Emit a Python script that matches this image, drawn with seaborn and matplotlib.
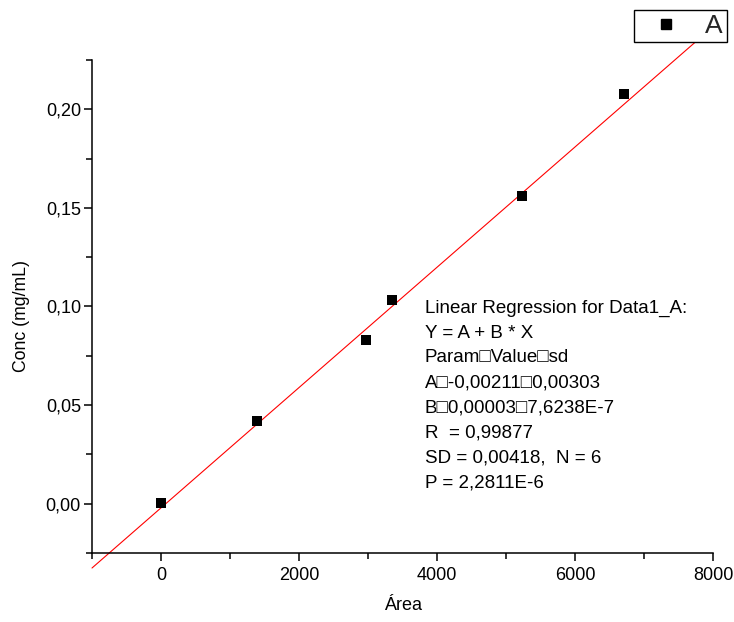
import numpy as np
import pandas as pd
import matplotlib
matplotlib.use("Agg")
import matplotlib.pyplot as plt
import seaborn as sns
from matplotlib.ticker import MultipleLocator, FuncFormatter
from matplotlib.lines import Line2D

# ---- data ----
area = [0, 1390, 2970, 3345, 5230, 6710]
conc = [0.0005, 0.042, 0.083, 0.1035, 0.156, 0.208]
fit_intercept = -0.00211
fit_slope = 3.05e-5
fit_x = [-1000, 8000]
annot_lines = [
    "Linear Regression for Data1_A:",
    "Y = A + B * X",
    "Param\u25a1Value\u25a1sd",
    "A\u25a1-0,00211\u25a10,00303",
    "B\u25a10,00003\u25a17,6238E-7",
    "R  = 0,99877",
    "SD = 0,00418,  N = 6",
    "P = 2,2811E-6",
]
legend_label = "A"

sns.set_theme(style="white")
plt.rcParams['font.family'] = ['Liberation Sans', 'DejaVu Sans']

W, H = 734, 622
fig = plt.figure(figsize=(W / 100, H / 100), dpi=100)
L, R, T, B = 92, 713, 60, 553
ax = fig.add_axes([L / W, 1 - B / H, (R - L) / W, (B - T) / H])

df = pd.DataFrame({"x": area, "y": conc})

# regression line (extends beyond axes, as in reference)
fx = np.array(fit_x, dtype=float)
fy = fit_intercept + fit_slope * fx
ax.plot(fx, fy, color="#ff0000", lw=0.8, clip_on=False, zorder=2)

sns.scatterplot(data=df, x="x", y="y", marker="s", s=55, color="black",
                edgecolor="black", linewidth=0, ax=ax, zorder=3, clip_on=False)

ax.set_xlim(-1000, 8000)
ax.set_ylim(-0.025, 0.225)

ax.xaxis.set_major_locator(MultipleLocator(2000))
ax.xaxis.set_minor_locator(MultipleLocator(1000))
ax.yaxis.set_major_locator(MultipleLocator(0.05))
ax.yaxis.set_minor_locator(MultipleLocator(0.025))
ax.xaxis.set_major_formatter(FuncFormatter(lambda v, p: f"{v:.0f}"))
ax.yaxis.set_major_formatter(FuncFormatter(lambda v, p: f"{v:.2f}".replace(".", ",")))

for s in ["top", "right"]:
    ax.spines[s].set_visible(False)
for s in ["left", "bottom"]:
    ax.spines[s].set_color("black")
    ax.spines[s].set_linewidth(1.1)

ax.tick_params(which="major", direction="out", length=6, width=1.1, color="black",
               labelsize=13, labelcolor="black", bottom=True, left=True)
ax.tick_params(which="minor", direction="out", length=4, width=1.1, color="black",
               bottom=True, left=True)
ax.tick_params(axis="y", which="major", pad=2)
ax.tick_params(axis="x", which="major", pad=4)

ax.set_xlabel("Área", fontsize=13, color="black")
ax.set_ylabel("Conc (mg/mL)", fontsize=12.7, color="black")
ax.xaxis.set_label_coords((403 - L) / (R - L), (B - 606) / (B - T))
ax.xaxis.label.set_va("center")
ax.yaxis.set_label_coords((22 - L) / (R - L), (B - 316) / (B - T))
ax.yaxis.label.set_va("center")
ax.yaxis.label.set_ha("center")
ax.grid(False)
ax.set_facecolor("white")

# annotation text
for i, line in enumerate(annot_lines):
    base = 312.7 + 24.9 * i
    fig.text(425 / W, 1 - base / H, line, fontsize=13.5, va="baseline", ha="left",
             color="black", family=['Liberation Sans', 'DejaVu Sans'])

# legend
handle = Line2D([], [], marker="s", linestyle="none", color="black", markersize=7)
leg = fig.legend([handle], [legend_label], loc="upper right",
                 bbox_to_anchor=(727 / W, 1 - 10 / H), bbox_transform=fig.transFigure,
                 fontsize=19, frameon=True, fancybox=False, edgecolor="black",
                 borderpad=0.15, handletextpad=0.45, handlelength=2.1, borderaxespad=0,
                 framealpha=1)
leg.get_frame().set_linewidth(1.0)
leg.set_zorder(10)

fig.savefig("out.png", dpi=100, facecolor="white")
